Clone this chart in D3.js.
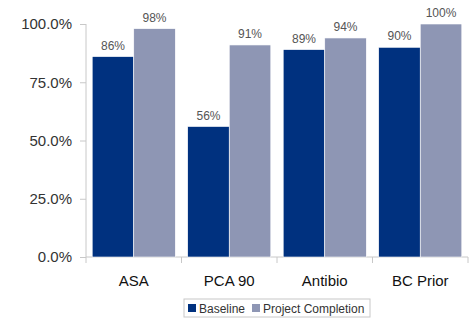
<!DOCTYPE html>
<html>
<head>
<meta charset="utf-8">
<script src="https://cdn.jsdelivr.net/npm/d3@7"></script>
<style>
  body { margin: 0; background: #fff; }
</style>
</head>
<body>
<div id="chart"></div>
<script>
var categories = ["ASA", "PCA 90", "Antibio", "BC Prior"];
var seriesNames = ["Baseline", "Project Completion"];
var baseline = [86, 56, 89, 90];
var completion = [98, 91, 94, 100];
var yTicks = [0, 25, 50, 75, 100];

var width = 474, height = 318;
var color = d3.scaleOrdinal().domain(seriesNames).range(["#00317f", "#8e96b4"]);

var svg = d3.select("#chart")
    .append("svg")
    .attr("width", width)
    .attr("height", height);

var x = d3.scaleBand()
    .domain(categories)
    .range([86, 468])
    .paddingInner(0.13)
    .paddingOuter(0.065);

var x1 = d3.scaleBand()
    .domain(seriesNames)
    .range([0, x.bandwidth()]);

var y = d3.scaleLinear()
    .domain([0, 100])
    .range([257, 24]);

var data = categories.map(function(c, i) {
    return { cat: c, values: [
        { name: seriesNames[0], v: baseline[i] },
        { name: seriesNames[1], v: completion[i] }
    ]};
});

// y axis
var yAxis = svg.append("g")
    .attr("transform", "translate(86,0)")
    .call(d3.axisLeft(y).tickValues(yTicks).tickSize(6).tickPadding(8)
        .tickFormat(function(d) { return d.toFixed(1) + "%"; }));
yAxis.selectAll("text")
    .attr("font-family", "Liberation Sans, Arial, sans-serif")
    .attr("font-size", 15)
    .attr("fill", "#333");
yAxis.selectAll("line, path").attr("stroke", "#c8c8c8");
yAxis.select("path").attr("d", "M0,24V257");

// x axis
var xAxisG = svg.append("g").attr("transform", "translate(0,257)");
xAxisG.append("line")
    .attr("x1", 86).attr("x2", 468)
    .attr("stroke", "#c8c8c8");
xAxisG.selectAll(".tk")
    .data(categories.concat([""]))
    .enter().append("line")
    .attr("x1", function(d, i) { return i < categories.length ? x(d) - x.step() * x.paddingInner() / 2 : 468; })
    .attr("x2", function(d, i) { return i < categories.length ? x(d) - x.step() * x.paddingInner() / 2 : 468; })
    .attr("y1", 0).attr("y2", 6)
    .attr("stroke", "#c8c8c8");
xAxisG.selectAll(".lbl")
    .data(categories)
    .enter().append("text")
    .attr("x", function(d) { return x(d) + x.bandwidth() / 2; })
    .attr("y", 29)
    .attr("text-anchor", "middle")
    .attr("font-family", "Liberation Sans, Arial, sans-serif")
    .attr("font-size", 15)
    .attr("fill", "#111")
    .text(function(d) { return d; });

// bars
var group = svg.selectAll(".grp")
    .data(data)
    .enter().append("g")
    .attr("transform", function(d) { return "translate(" + x(d.cat) + ",0)"; });

group.selectAll("rect")
    .data(function(d) { return d.values; })
    .enter().append("rect")
    .attr("x", function(d) { return x1(d.name); })
    .attr("y", function(d) { return y(d.v); })
    .attr("width", x1.bandwidth())
    .attr("height", function(d) { return y(0) - y(d.v); })
    .attr("fill", function(d) { return color(d.name); })
    .attr("stroke", "#ffffff")
    .attr("stroke-width", 0.6);

group.selectAll(".val")
    .data(function(d) { return d.values; })
    .enter().append("text")
    .attr("x", function(d) { return x1(d.name) + x1.bandwidth() / 2; })
    .attr("y", function(d) { return y(d.v) - 7; })
    .attr("text-anchor", "middle")
    .attr("font-family", "Liberation Sans, Arial, sans-serif")
    .attr("font-size", 12)
    .attr("fill", "#555")
    .text(function(d) { return d.v + "%"; });

// legend
var legend = svg.append("g").attr("transform", "translate(184,299)");
legend.append("rect")
    .attr("width", 186).attr("height", 18)
    .attr("fill", "#fff")
    .attr("stroke", "#c8c8c8");
var items = [{ name: seriesNames[0], x: 4 }, { name: seriesNames[1], x: 68 }];
items.forEach(function(it) {
    legend.append("rect")
        .attr("x", it.x).attr("y", 5)
        .attr("width", 8).attr("height", 8)
        .attr("fill", color(it.name));
    legend.append("text")
        .attr("x", it.x + 11).attr("y", 13.5)
        .attr("font-family", "Liberation Sans, Arial, sans-serif")
        .attr("font-size", 12)
        .attr("fill", "#333")
        .text(it.name);
});
</script>
</body>
</html>
